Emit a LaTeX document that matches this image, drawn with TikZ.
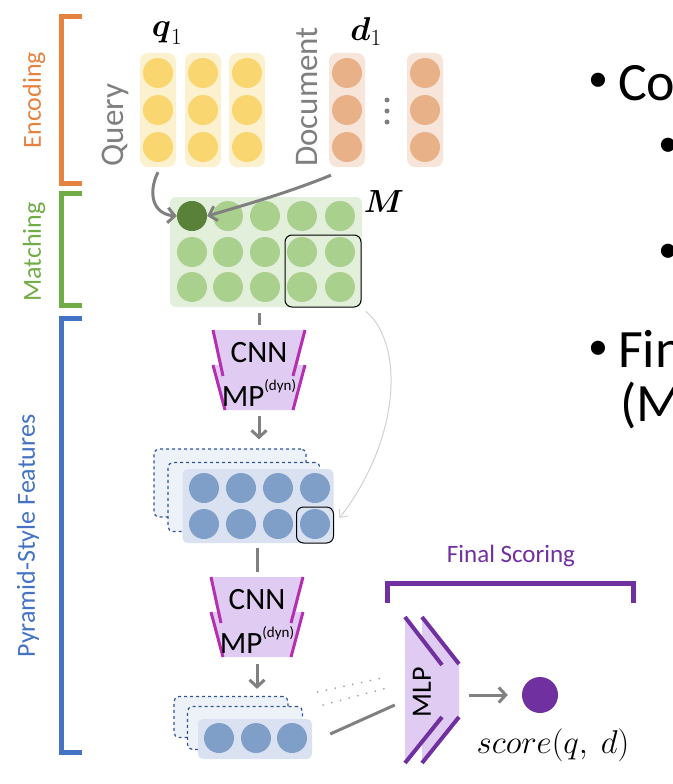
\RequirePackage{fix-cm}
\documentclass[tikz,border=0pt]{standalone}
\usepackage[no-math]{fontspec}
\setmainfont{Carlito}
\usepackage{amsmath}
\usetikzlibrary{positioning,arrows.meta}

\definecolor{encOrange}{HTML}{E5823F}
\definecolor{matGreen}{HTML}{70AD47}
\definecolor{pyrBlue}{HTML}{4472C4}
\definecolor{scoPurple}{HTML}{7030A0}
\definecolor{qYellow}{HTML}{F9D66F}
\definecolor{qBack}{HTML}{FCF1CF}
\definecolor{dOrange}{HTML}{E9B188}
\definecolor{dBack}{HTML}{F8E5DA}
\definecolor{mGreen}{HTML}{AAD08E}
\definecolor{mBack}{HTML}{E2EFDA}
\definecolor{mDark}{HTML}{5A8139}
\definecolor{fBlue}{HTML}{7F9FC9}
\definecolor{fBack}{HTML}{DAE2F2}
\definecolor{fBackLight}{HTML}{EDF1F8}
\definecolor{fDash}{HTML}{2F5597}
\definecolor{convFill}{HTML}{E0CBF2}
\definecolor{convEdge}{HTML}{B52FB0}
\definecolor{arrowGray}{HTML}{808080}
\definecolor{textGray}{HTML}{7F7F7F}

\newcommand{\dynsup}{\raisebox{0.5em}{\fontsize{15}{15}\selectfont(dyn)}}

\begin{document}
\begin{tikzpicture}[x=1pt, y=-1pt,
  brack/.style={line width=5pt},
  sidelabel/.style={rotate=90, font=\fontsize{26}{28}\selectfont},
  colbox/.style={rounded corners=8pt, minimum width=36pt, minimum height=114pt, inner sep=0pt},
  cell/.style={circle, inner sep=0pt, minimum size=30pt},
  flow/.style={draw=arrowGray, line width=3pt, -{Straight Barb[length=7pt,width=15pt]}},
  link/.style={draw=arrowGray, line width=3pt},
  faint/.style={draw=black!35, line width=2pt, line cap=round, dash pattern=on 0pt off 9pt},
  soft/.style={draw=black!18, line width=1pt, -{Straight Barb[length=6pt,width=11pt]}},
  fmap/.style={rounded corners=5pt, inner sep=0pt},
  ghost/.style={fmap, fill=fBackLight, draw=fDash, line width=1.2pt, dash pattern=on 3pt off 3pt},
  pick/.style={draw=black, line width=1pt, rounded corners=7pt, inner sep=0pt},
  convtext/.style={inner sep=0pt, minimum width=80pt, font=\fontsize{31}{32}\selectfont},
  slide/.style={inner sep=0pt, font=\fontsize{54}{60}\selectfont},
  bullet/.style={inner sep=0pt, font=\fontsize{40}{44}\selectfont}]
  \useasboundingbox (0,0) rectangle (672,784);
  \clip (0,0) rectangle (672,784);

  \draw[brack, encOrange] (82,17) -- (61,17) -- (61,183) -- (82,183);
  \draw[brack, matGreen] (82,193) -- (61,193) -- (61,305) -- (82,305);
  \draw[brack, pyrBlue] (82,318) -- (61,318) -- (61,752) -- (82,752);
  \node[sidelabel, text=encOrange] (enc) at (34,100) {Encoding};
  \node[sidelabel, text=matGreen] (mat) at (34,252) {Matching};
  \node[sidelabel, text=pyrBlue] (pyr) at (28,536) {Pyramid-Style Features};

  \foreach \c/\x in {1/158,2/203,3/247} {
    \node[colbox, fill=qBack] (qcol\c) at (\x,110) {};
    \foreach \r/\y in {1/73,2/110,3/147}
      \node[cell, fill=qYellow] (q\c\r) at (\x,\y) {};
  }
  \foreach \c/\x in {1/347,2/425} {
    \node[colbox, fill=dBack] (dcol\c) at (\x,110) {};
    \foreach \r/\y in {1/73,2/110,3/147}
      \node[cell, fill=dOrange] (d\c\r) at (\x,\y) {};
  }
  \foreach \y in {100,111,122}
    \node[circle, fill=textGray, inner sep=0pt, minimum size=5pt] (ddot\y) at (387,\y) {};
  \node[font=\fontsize{33}{35}\selectfont] (qlab) at (167,33) {$\boldsymbol{q}_1$};
  \node[font=\fontsize{33}{35}\selectfont] (dlab) at (366,32) {$\boldsymbol{d}_1$};
  \node[rotate=90, text=textGray, font=\fontsize{33}{35}\selectfont] (qname) at (115,125) {Query};
  \node[rotate=90, text=textGray, font=\fontsize{33}{35}\selectfont] (dname) at (307,97) {Document};

  \node[fill=mBack, rounded corners=6pt, minimum width=192pt, minimum height=110pt, inner sep=0pt] (mbox) at (266,252) {};
  \foreach \c/\x in {1/192,2/228,3/265,4/302,5/340}
    \foreach \r/\y in {1/216,2/252,3/287}
      \node[cell, fill=mGreen] (m\r\c) at (\x,\y) {};
  \node[cell, fill=mDark] (mhit) at (m11) {};
  \node[pick, minimum width=76pt, minimum height=72pt] (msel) at (323,271) {};
  \node[font=\fontsize{32}{34}\selectfont] (mlab) at (384,202) {$\boldsymbol{M}$};
  \draw[flow] ([yshift=-5pt]qcol1.south) .. controls (148,192) and (152,214) .. (mhit.west);
  \draw[flow] ([xshift=-16pt,yshift=-8pt]dcol1.south) .. controls (290,192) and (245,205) .. (mhit.east);

  \foreach \n/\x/\y in {1/259/330, 2/257/577} {
    \fill[convFill] (\x-46,\y+35) -- (\x+46,\y+35) -- (\x+35,\y+80) -- (\x-35,\y+80) -- cycle;
    \fill[convFill] (\x-46,\y) -- (\x+46,\y) -- (\x+37,\y+45) -- (\x-37,\y+45) -- cycle;
    \draw[convEdge, line width=3pt] (\x-46,\y) -- (\x-36,\y+46) (\x+46,\y) -- (\x+34,\y+46);
    \draw[convEdge, line width=3pt] (\x-46,\y+35) -- (\x-34,\y+80) (\x+46,\y+35) -- (\x+34,\y+80);
    \node[convtext, minimum height=45pt] (cnn\n) at (\x,\y+22.5) {CNN};
    \node[convtext, minimum height=35pt] (mp\n) at (\x,\y+63) {MP\dynsup};
  }
  \draw[link, shorten <=6pt, shorten >=5pt] (cnn1.north |- mbox.south) -- (cnn1.north);

  \node[ghost, minimum width=152pt, minimum height=68pt] (fback1) at (230,483) {};
  \node[ghost, minimum width=152pt, minimum height=69pt] (fmid1) at (244,497) {};
  \node[fmap, fill=fBack, minimum width=151pt, minimum height=74pt] (ffront1) at (258,506) {};
  \foreach \c/\x in {1/204,2/241,3/278,4/315}
    \foreach \r/\y in {1/488,2/524}
      \node[cell, fill=fBlue] (f\r\c) at (\x,\y) {};
  \node[pick, minimum width=37pt, minimum height=36pt] (fsel) at (315,525) {};
  \draw[flow, shorten <=5pt, shorten >=9pt] (mp1.south) -- (mp1.south |- fback1.north);
  \draw[soft, shorten <=6pt, shorten >=9pt] (msel.south east) .. controls (405,345) and (400,440) .. (fsel.east);
  \draw[link, shorten <=5pt, shorten >=5pt] (cnn2.north |- ffront1.south) -- (cnn2.north);

  \node[ghost, minimum width=114pt, minimum height=41pt] (fback2) at (231,717) {};
  \node[ghost, minimum width=115pt, minimum height=43pt] (fmid2) at (245,728) {};
  \node[fmap, fill=fBack, minimum width=114pt, minimum height=40pt] (ffront2) at (255,739) {};
  \foreach \c/\x in {1/219,2/256,3/292}
    \node[cell, fill=fBlue] (g\c) at (\x,738) {};
  \draw[flow, shorten <=6pt, shorten >=7pt] (mp2.south) -- (mp2.south |- fback2.north);

  \fill[convFill] (422,617) -- (459,664) -- (459,717) -- (422,763) -- cycle;
  \fill[convFill] (405,617) -- (442,665) -- (442,717) -- (405,763) -- cycle;
  \draw[scoPurple, line width=4pt] (405,617) -- (442,665) (422,617) -- (459,664) (442,717) -- (405,763) (459,717) -- (422,763);
  \node[minimum width=54pt, minimum height=146pt, inner sep=0pt] (mlp) at (432,690) {};
  \node[rotate=90, font=\fontsize{28}{30}\selectfont] (mlptext) at (422,692) {MLP};
  \draw[link] ([xshift=18pt,yshift=5pt]ffront2.east) -- ([xshift=-10pt,yshift=-15pt]mlp.west);
  \draw[faint] ([xshift=29pt,yshift=25pt]fback2.east) -- ([xshift=-18pt,yshift=13pt]mlp.west);
  \draw[faint] ([xshift=20pt,yshift=23pt]fmid2.east) -- ([xshift=-18pt,yshift=2pt]mlp.west);

  \node[circle, fill=scoPurple, inner sep=0pt, minimum size=36pt] (score) at (540,695) {};
  \draw[flow, shorten <=10pt, shorten >=14pt] (mlp.east |- score) -- (score.west);
  \node[font=\fontsize{33}{35}\selectfont] (scorelab) at (553,745) {$score(q,\ d)$};
  \draw[brack, scoPurple] (387,603) -- (387,583) -- (633,583) -- (633,603);
  \node[font=\fontsize{25}{27}\selectfont, text=scoPurple] (fin) at (511,556) {Final Scoring};

  \node[bullet] (b1) at (598,82) {•};
  \node[slide, anchor=base west] (t1) at (618,100) {Co};
  \node[bullet] (b2) at (668,147) {•};
  \node[bullet] (b3) at (668,253) {•};
  \node[bullet] (b4) at (598,350) {•};
  \node[slide, anchor=base west] (t4) at (618,367) {Fin};
  \node[slide, anchor=base west] (t5) at (620,421) {(M};
\end{tikzpicture}
\end{document}
